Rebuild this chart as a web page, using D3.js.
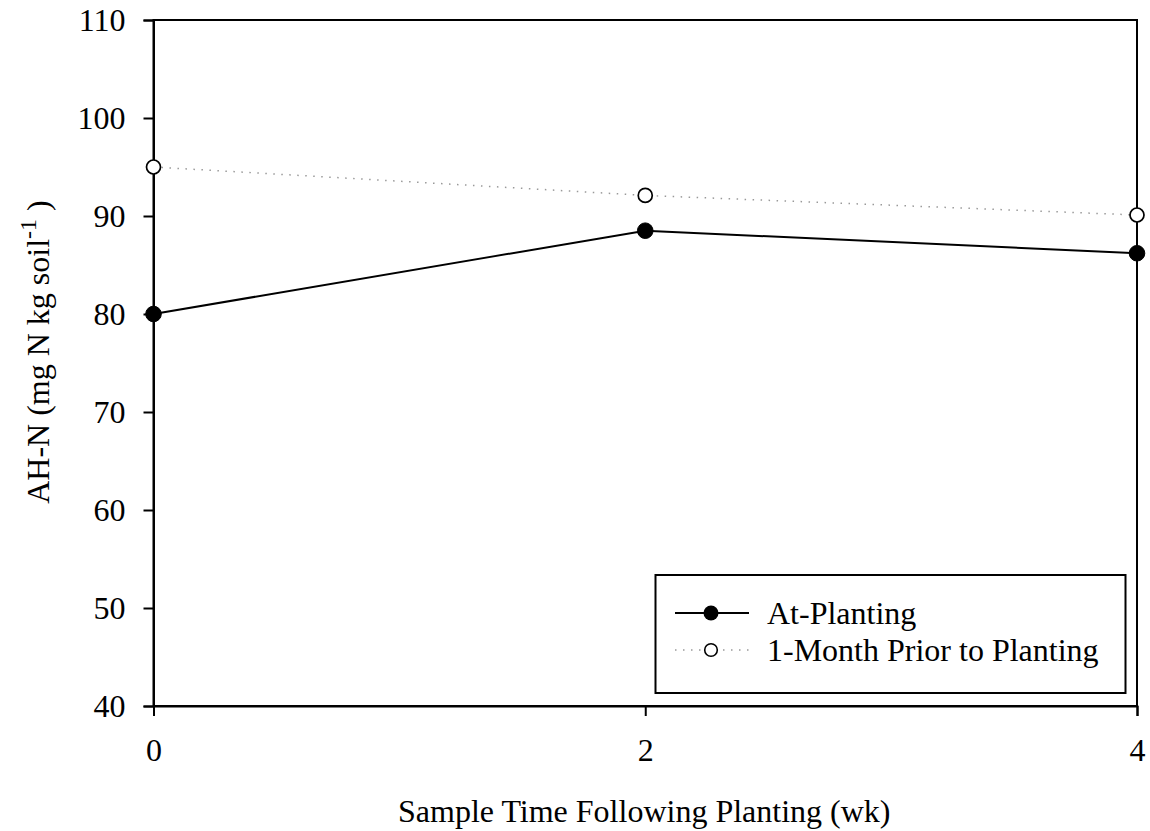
<!DOCTYPE html>
<html><head><meta charset="utf-8">
<script src="https://cdn.jsdelivr.net/npm/d3@7"></script>
<style>body{margin:0;background:#fff}svg{display:block}text{font-family:"Liberation Serif","Times New Roman",serif;fill:#000}</style>
</head><body>
<script>
const weeks = [0, 2, 4];
const atPlanting = [80.0, 88.5, 86.2];
const priorMonth = [95.0, 92.1, 90.1];
const seriesNames = ["At-Planting", "1-Month Prior to Planting"];
const yTicks = [40, 50, 60, 70, 80, 90, 100, 110];
const xTicks = [0, 2, 4];

const W = 1150, H = 831;
const svg = d3.select("body").append("svg").attr("width", W).attr("height", H);
const L = 153.5, R = 1137, T = 20, B = 706;
const x = d3.scaleLinear().domain([0, 4]).range([L, R]);
const y = d3.scaleLinear().domain([40, 110]).range([B, T]);
const fs = 32;

svg.append("rect").attr("x", L).attr("y", T).attr("width", R - L).attr("height", B - T)
  .attr("fill", "none").attr("stroke", "#000").attr("stroke-width", 2);

const ya = svg.append("g").attr("transform", `translate(${L},0)`)
  .call(d3.axisLeft(y).tickValues(yTicks).tickSize(10).tickPadding(18).tickFormat(d3.format("d")));
const xa = svg.append("g").attr("transform", `translate(0,${B})`)
  .call(d3.axisBottom(x).tickValues(xTicks).tickSize(10).tickPadding(22).tickFormat(d3.format("d")));
[ya, xa].forEach(a => {
  a.attr("font-family", '"Liberation Serif",serif').attr("font-size", fs);
  a.select(".domain").attr("stroke", "#000").attr("stroke-width", 2);
  a.selectAll(".tick line").attr("stroke", "#000").attr("stroke-width", 2);
  a.selectAll(".tick text").attr("fill", "#000");
});

const line = d3.line().x((d, i) => x(weeks[i])).y(d => y(d));
svg.append("path").datum(priorMonth).attr("d", line).attr("fill", "none")
  .attr("stroke", "#999").attr("stroke-width", 1.5).attr("stroke-dasharray", "1.5,6.5");
svg.append("path").datum(atPlanting).attr("d", line).attr("fill", "none")
  .attr("stroke", "#000").attr("stroke-width", 2);
svg.selectAll("circle.a").data(atPlanting).enter().append("circle")
  .attr("cx", (d, i) => x(weeks[i])).attr("cy", d => y(d)).attr("r", 7.8)
  .attr("fill", "#000").attr("stroke", "#000").attr("stroke-width", 1);
svg.selectAll("circle.b").data(priorMonth).enter().append("circle")
  .attr("cx", (d, i) => x(weeks[i])).attr("cy", d => y(d)).attr("r", 7)
  .attr("fill", "#fff").attr("stroke", "#000").attr("stroke-width", 1.7);

svg.append("text").attr("x", (L + R) / 2 - 1).attr("y", 822).attr("text-anchor", "middle")
  .attr("font-size", fs).text("Sample Time Following Planting (wk)");
const yt = svg.append("text").attr("transform", "translate(49,352) rotate(-90)")
  .attr("text-anchor", "middle").attr("font-size", fs);
yt.append("tspan").text("AH-N (mg N kg soil");
yt.append("tspan").attr("font-size", 24).attr("dy", -13).text("-1");
yt.append("tspan").attr("dy", 13).text(" )");

const lg = svg.append("g");
lg.append("rect").attr("x", 655.5).attr("y", 575).attr("width", 470).attr("height", 118)
  .attr("fill", "#fff").attr("stroke", "#000").attr("stroke-width", 2);
const rows = [613, 650];
lg.append("line").attr("x1", 675).attr("x2", 749).attr("y1", rows[0]).attr("y2", rows[0]).attr("stroke", "#000").attr("stroke-width", 2);
lg.append("circle").attr("cx", 711).attr("cy", rows[0]).attr("r", 7.5).attr("fill", "#000");
lg.append("line").attr("x1", 675).attr("x2", 749).attr("y1", rows[1]).attr("y2", rows[1]).attr("stroke", "#999").attr("stroke-width", 1.5).attr("stroke-dasharray", "1.5,6.5");
lg.append("circle").attr("cx", 711).attr("cy", rows[1]).attr("r", 6.3).attr("fill", "#fff").attr("stroke", "#000").attr("stroke-width", 1.6);
seriesNames.forEach((n, i) => {
  lg.append("text").attr("x", 767).attr("y", rows[i] + 11).attr("font-size", fs).text(n);
});
</script>
</body></html>
